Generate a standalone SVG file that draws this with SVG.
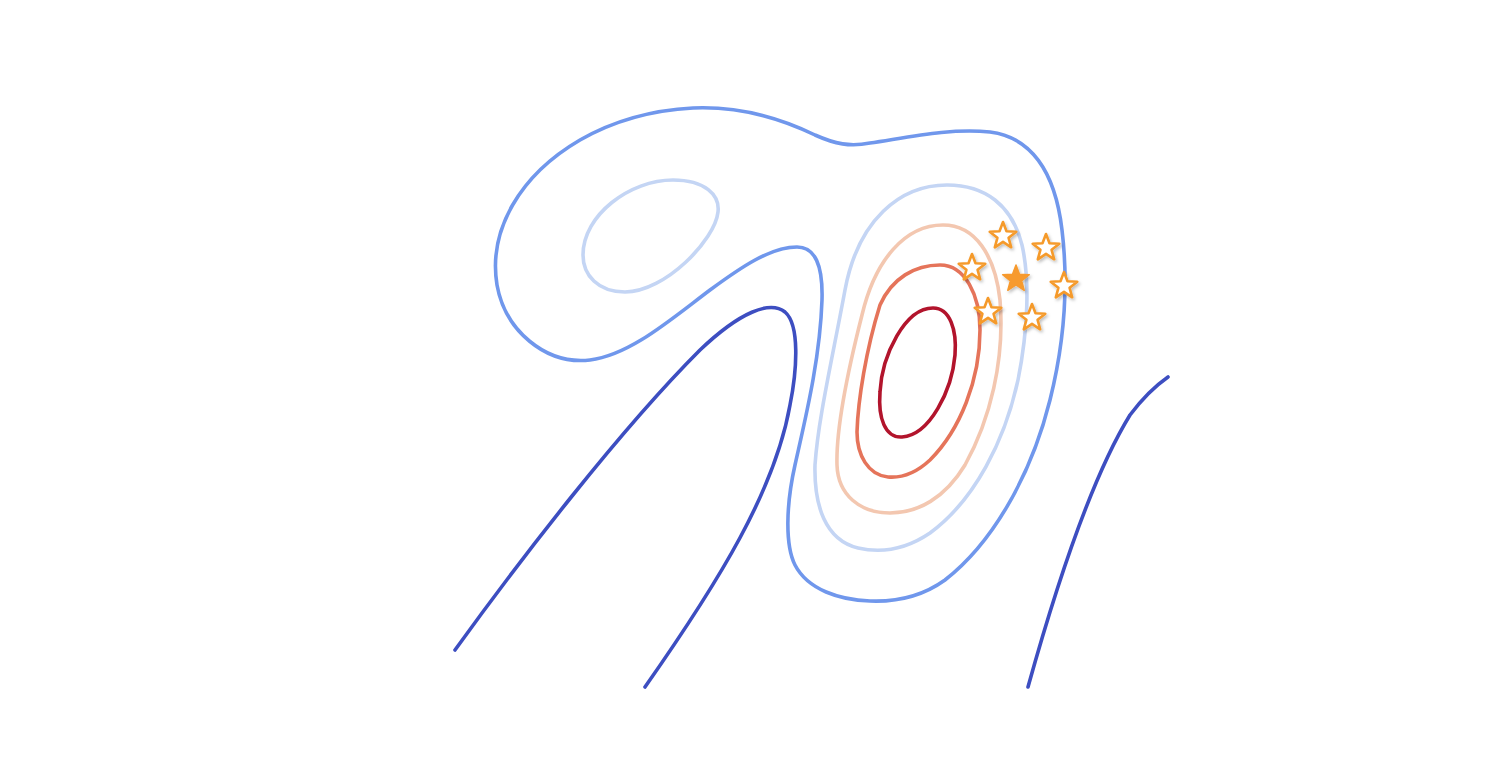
<svg xmlns="http://www.w3.org/2000/svg" width="1491" height="763" viewBox="0 0 1491 763">
<style>
.c{fill:none;stroke-width:3.6;stroke-linecap:round;stroke-linejoin:round}
.ob{stroke:#7097ec}
.lb{stroke:#c4d5f4}
.pe{stroke:#f3c7b0}
.or{stroke:#e5745a}
.dr{stroke:#b2142c}
.db{stroke:#3d4ec1}
.so{fill:#ffffff;stroke:#f59a2c;stroke-width:2.6;stroke-linejoin:round}
.sf{fill:#f79a2e;stroke:#f79a2e;stroke-width:1.5;stroke-linejoin:round}
</style>
<defs>
<filter id="sh" x="-50%" y="-50%" width="200%" height="200%">
<feDropShadow dx="1.5" dy="2" stdDeviation="1.6" flood-color="#000" flood-opacity="0.25"/>
</filter>
<polygon id="star" points="0,-14 3.5,-4.8 13.3,-4.3 5.6,1.8 8.2,11.3 0,5.9 -8.2,11.3 -5.6,1.8 -13.3,-4.3 -3.5,-4.8"/>
</defs>
<rect width="1491" height="763" fill="#ffffff"/>
<g id="contours">
<path id="outer" class="c ob" d="M693,108 C740,106 780,118 815,135 C835,144 850,147 870,143 C910,137 950,128 990,132 C1030,137 1055,170 1062,230 C1068,280 1065,340 1050,400 C1030,480 990,545 945,580 C920,598 895,602 870,601 C840,600 808,590 795,565 C785,545 786,505 795,465 C805,420 820,360 822,300 C823,265 815,247 797,247 C770,247 740,268 710,290 C670,320 630,355 590,360 C545,365 505,330 497,285 C488,230 520,175 580,140 C615,120 655,110 693,108 Z"/>
<path id="left-ellipse" class="c lb" d="M583,255 C583,215 630,180 673,180 C705,180 720,195 718,212 C715,240 665,292 625,292 C598,292 583,275 583,255 Z"/>
<path id="lightblue" class="c lb" d="M947,185 C985,185 1012,205 1022,245 C1030,280 1028,330 1018,380 C1005,440 975,500 930,533 C905,550 880,553 858,548 C825,540 814,505 815,465 C818,420 832,360 845,290 C858,220 900,185 947,185 Z"/>
<path id="peach" class="c pe" d="M943,225 C975,225 995,255 1000,300 C1005,360 990,420 965,465 C945,498 918,513 890,513 C860,513 838,495 837,465 C836,430 848,370 862,315 C875,260 905,225 943,225 Z"/>
<path id="orange" class="c or" d="M940,265 C965,265 980,295 980,330 C980,380 960,430 930,460 C915,474 900,478 888,477 C868,475 857,455 857,432 C858,400 866,350 880,305 C892,278 915,265 940,265 Z"/>
<path id="darkred" class="c dr" d="M933,308 C950,308 957,330 955,355 C952,390 930,435 902,437 C885,438 878,418 880,392 C882,355 905,308 933,308 Z"/>
<path id="darkblue1" class="c db" d="M455,650 C520,560 620,430 700,350 C740,312 770,300 785,312 C800,325 797,370 790,405 C775,490 720,580 645,687"/>
<path id="darkblue2" class="c db" d="M1028,687 C1055,590 1090,480 1130,415 C1145,395 1158,384 1168,377"/>
</g>
<g id="stars" filter="url(#sh)">
<use href="#star" class="so" x="1003" y="236"/>
<use href="#star" class="so" x="1046" y="248"/>
<use href="#star" class="so" x="972" y="268"/>
<use href="#star" class="so" x="1064" y="286"/>
<use href="#star" class="so" x="988" y="312"/>
<use href="#star" class="so" x="1032" y="318"/>
<use href="#star" class="sf" x="1016" y="279"/>
</g>
</svg>
